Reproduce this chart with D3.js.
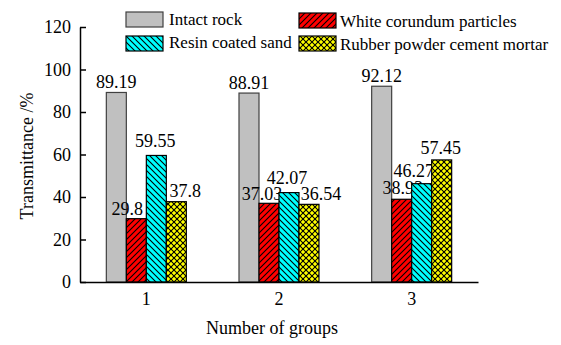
<!DOCTYPE html>
<html><head><meta charset="utf-8">
<script src="https://cdn.jsdelivr.net/npm/d3@7"></script>
<style>
html,body{margin:0;padding:0;background:#fff;}
svg{display:block;font-family:"Liberation Serif","Times New Roman",serif;}
</style></head>
<body>
<svg id="chart" width="561" height="345"></svg>
<script>
// ---- data ----
const groups = ["1", "2", "3"];
const seriesNames = ["Intact rock", "White corundum particles", "Resin coated sand", "Rubber powder cement mortar"];
const intactRock = [89.19, 88.91, 92.12];
const whiteCorundum = [29.8, 37.03, 38.93];
const resinSand = [59.55, 42.07, 46.27];
const rubberMortar = [37.8, 36.54, 57.45];
const yTicks = [0, 20, 40, 60, 80, 100, 120];
const xTitle = "Number of groups";
const yTitle = "Transmittance /%";

// ---- layout / style (not data) ----
const labelDx = [[0,0,0],[-9,-7,1],[-1,-2,-8],[9,12,-1]];
const labelDy = [[-4,-4,-4],[-4,-3,-5],[-8,-9,-7],[-5,-4,-6]];
const fills = ["#c0c0c0", "url(#pRed)", "url(#pCyan)", "url(#pYellow)"];
const strokes = ["#404040", "#000", "#000", "#000"];

const seriesVals = [intactRock, whiteCorundum, resinSand, rubberMortar];
const svg = d3.select("#chart");

// patterns
const defs = svg.append("defs");
function hatch(id, bg, dirs, size) {
  const p = defs.append("pattern").attr("id", id).attr("patternUnits", "userSpaceOnUse")
    .attr("width", size).attr("height", size);
  p.append("rect").attr("width", size).attr("height", size).attr("fill", bg);
  dirs.forEach(d => {
    const s = size;
    const paths = d === "/" ?
      `M0,${s} L${s},0 M${-s/2},${s/2} L${s/2},${-s/2} M${s/2},${s*1.5} L${s*1.5},${s/2}` :
      `M0,0 L${s},${s} M${-s/2},${s/2} L${s/2},${s*1.5} M${s/2},${-s/2} L${s*1.5},${s/2}`;
    p.append("path").attr("d", paths).attr("stroke", "#000").attr("stroke-width", 1.1).attr("fill", "none");
  });
}
hatch("pRed", "#ff0000", ["/"], 6);
hatch("pCyan", "#00ffff", ["\\"], 6);
hatch("pYellow", "#ffff00", ["/", "\\"], 6);

// scales
const x0 = d3.scaleBand().domain(groups).range([80, 478]).paddingInner(0.397).paddingOuter(0.1985);
const x1 = d3.scaleBand().domain(d3.range(seriesNames.length)).range([0, x0.bandwidth()]);
const y = d3.scaleLinear().domain([0, 120]).range([282, 27]);

// bars + labels (drawn series by series so later bars overlay earlier labels)
seriesVals.forEach((vals, si) => {
  const g = svg.append("g");
  g.selectAll("rect").data(vals).join("rect")
    .attr("x", (d, i) => x0(groups[i]) + x1(si))
    .attr("y", d => y(d))
    .attr("width", x1.bandwidth())
    .attr("height", d => y(0) - y(d))
    .attr("fill", fills[si])
    .attr("stroke", strokes[si])
    .attr("stroke-width", 1.2);
  g.selectAll("text").data(vals).join("text")
    .attr("x", (d, i) => x0(groups[i]) + x1(si) + x1.bandwidth() / 2 + labelDx[si][i])
    .attr("y", (d, i) => y(d) + labelDy[si][i])
    .attr("text-anchor", "middle")
    .attr("font-size", 18)
    .attr("fill", "#000")
    .text(d => d);
});

// y axis
const yAxis = svg.append("g").attr("transform", "translate(80,0)")
  .call(d3.axisLeft(y).tickValues(yTicks).tickSize(-6).tickSizeOuter(0).tickPadding(9));
yAxis.select(".domain").attr("stroke", "#000").attr("stroke-width", 1.5);
yAxis.selectAll(".tick line").attr("stroke", "#000").attr("stroke-width", 1.5);
yAxis.selectAll("text").attr("font-size", 18).attr("font-family", "Liberation Serif").attr("fill", "#000");

// x axis
const xAxis = svg.append("g").attr("transform", `translate(0,${y(0)})`)
  .call(d3.axisBottom(x0).tickSize(0).tickSizeOuter(0).tickPadding(10));
xAxis.select(".domain").attr("stroke", "#000").attr("stroke-width", 1.5);
xAxis.selectAll("text").attr("font-size", 18).attr("font-family", "Liberation Serif").attr("fill", "#000");

// titles
svg.append("text").attr("x", 272).attr("y", 334).attr("text-anchor", "middle")
  .attr("font-size", 18).text(xTitle);
svg.append("text").attr("transform", "translate(33,156) rotate(-90)").attr("text-anchor", "middle")
  .attr("font-size", 18).text(yTitle);

// legend
const legPos = [[126, 12, 169, 25], [299, 13, 340, 27], [126, 36, 169, 48], [299, 36, 340, 50]];
seriesNames.forEach((name, si) => {
  const [sx, sy, tx, ty] = legPos[si];
  svg.append("rect").attr("x", sx).attr("y", sy).attr("width", 37).attr("height", 15)
    .attr("fill", fills[si]).attr("stroke", strokes[si]).attr("stroke-width", 1.2);
  svg.append("text").attr("x", tx).attr("y", ty).attr("font-size", 17).text(name);
});
</script>
</body></html>
